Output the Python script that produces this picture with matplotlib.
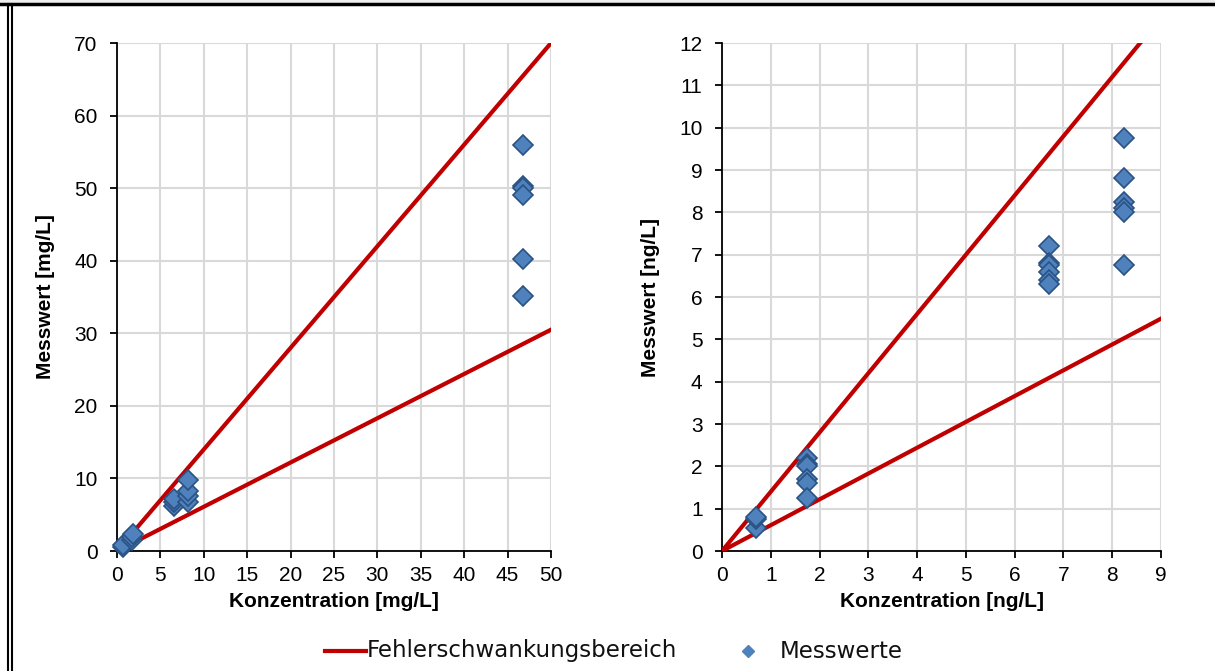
import matplotlib
matplotlib.use("Agg")
import matplotlib.pyplot as plt
from matplotlib.lines import Line2D
from matplotlib.patches import Rectangle
import numpy as np

plt.rcParams['font.family'] = ['Liberation Sans', 'DejaVu Sans']

# left chart, mg/L
mg_x = [0.7, 0.7, 1.7, 1.7, 1.8, 6.6, 6.6, 6.6, 8.2, 8.2, 8.2, 8.2,
        46.8, 46.8, 46.8, 46.8, 46.8, 46.8]
mg_y = [0.5, 0.8, 1.5, 2.0, 2.3, 6.2, 6.8, 7.2, 6.8, 7.6, 8.3, 9.8,
        56.0, 50.3, 50.0, 49.1, 40.2, 35.2]

# right chart, ng/L
ng_x = [0.7, 0.7, 0.7, 1.75, 1.75, 1.75, 1.75, 1.75, 1.75,
        6.7, 6.7, 6.7, 6.7, 6.7, 6.7, 8.25, 8.25, 8.25, 8.25, 8.25, 8.25]
ng_y = [0.55, 0.75, 0.8, 2.2, 2.05, 2.0, 1.7, 1.6, 1.25,
        7.2, 6.8, 6.75, 6.6, 6.4, 6.3, 9.75, 8.8, 8.25, 8.1, 8.0, 6.75]

upper = 1.4
lower = 0.61

red = '#c00000'
fill = '#4f81bd'
edge = '#2a5284'

fig = plt.figure(figsize=(12.15, 6.71), dpi=100)

def panel(rect, xs, ys, xmax, ymax, xstep, ystep, xlabel, ylabel):
    ax = fig.add_axes(rect)
    lx = np.array([0, xmax])
    ax.plot(lx, upper * lx, color=red, lw=3, zorder=3)
    ax.plot(lx, lower * lx, color=red, lw=3, zorder=3)
    ax.plot(xs, ys, 'D', ms=10.5, mfc=fill, mec=edge, mew=1.2, ls='none', zorder=4, clip_on=False)
    ax.set_xlim(0, xmax)
    ax.set_ylim(0, ymax)
    ax.set_xticks(np.arange(0, xmax + 0.001, xstep))
    ax.set_yticks(np.arange(0, ymax + 0.001, ystep))
    ax.grid(True, color='#d9d9d9', lw=1.5, zorder=0)
    ax.set_axisbelow(True)
    for s in ['top', 'right']:
        ax.spines[s].set_visible(False)
    for s in ['left', 'bottom']:
        ax.spines[s].set_linewidth(1.3)
    ax.tick_params(direction='out', length=5, width=1.3, labelsize=15)
    ax.tick_params(axis='x', pad=6)
    ax.tick_params(axis='y', pad=9)
    ax.set_xlabel(xlabel, fontsize=15, fontweight='bold', labelpad=5)
    ax.set_ylabel(ylabel, fontsize=15, fontweight='bold', labelpad=14)
    return ax

panel([0.0963, 0.1788, 0.3572, 0.7571], mg_x, mg_y, 50, 70, 5, 10,
      'Konzentration [mg/L]', 'Messwert [mg/L]')
panel([0.5942, 0.1788, 0.3614, 0.7571], ng_x, ng_y, 9, 12, 1, 1,
      'Konzentration [ng/L]', 'Messwert [ng/L]')

# frame
fig.patches.append(Rectangle((0, 0.9955), 1, 0.0045, transform=fig.transFigure,
                             color='#eeeeee', zorder=0))
fig.add_artist(Line2D([0, 1], [0.9935, 0.9935], color='black', lw=2.5, transform=fig.transFigure))
fig.add_artist(Line2D([0.0068, 0.0068], [0, 0.9935], color='black', lw=1.5, transform=fig.transFigure))
fig.add_artist(Line2D([0.0095, 0.0095], [0, 0.9935], color='black', lw=1.5, transform=fig.transFigure))

# legend
W, H = 1215.0, 671.0
ly = 1 - 651 / H
fig.add_artist(Line2D([325 / W, 366 / W], [ly, ly], color=red, lw=3, transform=fig.transFigure))
fig.text(367 / W, ly, 'Fehlerschwankungsbereich', fontsize=16.5, va='center', ha='left',
         family=['DejaVu Sans'], color='#111111')
fig.add_artist(Line2D([748 / W], [ly], marker='D', ms=6.5, mfc=fill, mec=fill, ls='none',
                      transform=fig.transFigure))
fig.text(780 / W, ly, 'Messwerte', fontsize=16.5, va='center', ha='left',
         family=['DejaVu Sans'], color='#111111')

fig.savefig('out.png', dpi=100)
